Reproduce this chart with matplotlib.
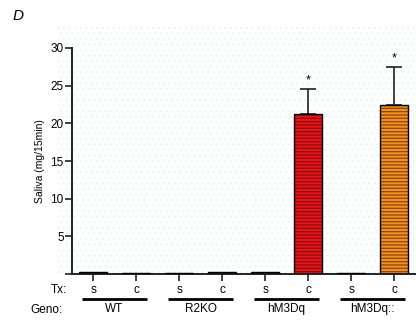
import matplotlib
matplotlib.use("Agg")
import matplotlib.pyplot as plt
from matplotlib.patches import Rectangle
import numpy as np

plt.rcParams["font.family"] = ["Liberation Sans", "DejaVu Sans"]

# data
genotypes = ["WT", "R2KO", "hM3Dq", "hM3Dq::"]
treatments = ["s", "c", "s", "c", "s", "c", "s", "c"]
saliva = [0.3, 0.15, 0.1, 0.2, 0.3, 21.3, 0.1, 22.4]
saliva_err = [0.1, 0.05, 0.05, 0.05, 0.1, 3.3, 0.05, 5.1]
fill_colors = ["#3a3a3a"] * 5 + ["#e8141b", "#3a3a3a", "#f5901e"]
stripe_colors = ["#3a3a3a"] * 5 + ["#8e0c0c", "#3a3a3a", "#8a4812"]
signif = [False, False, False, False, False, True, False, True]

fig = plt.figure(figsize=(4.16, 3.26), dpi=100)

# speckled background
plt.rcParams["hatch.linewidth"] = 0.3
bg = Rectangle((58 / 416, 52 / 326), 1 - 58 / 416, 1 - 52 / 326 - 25 / 326,
               transform=fig.transFigure, facecolor="#fdfefe",
               edgecolor="#e3ebeb", hatch="...", linewidth=0, zorder=0)
fig.patches.append(bg)

ax = fig.add_axes([72 / 416, 52 / 326, 1 - 72 / 416, (274 - 48) / 326])
ax.set_zorder(2)
ax.patch.set_alpha(0)

x = np.arange(len(saliva))
w = 0.67
# striped fill
plt.rcParams["hatch.linewidth"] = 0.9
ax.bar(x, saliva, width=w, color=fill_colors, edgecolor=stripe_colors,
       hatch="-----", linewidth=0, zorder=2)
# black outline
ax.bar(x, saliva, width=w, fill=False, edgecolor="black", linewidth=1.0, zorder=3)

big = [i for i in range(len(saliva)) if signif[i]]
ax.errorbar(x[big], np.array(saliva)[big],
            yerr=[np.zeros(len(big)), np.array(saliva_err)[big]],
            fmt="none", ecolor="#222222", elinewidth=1.2, capsize=5.5,
            capthick=1.2, zorder=1)
for i in big:
    ax.text(x[i], saliva[i] + saliva_err[i] + 0.3, "*", ha="center",
            va="bottom", fontsize=9)

ax.set_xlim(-0.49, 7.51)
ax.set_ylim(0, 30)
ax.set_yticks([0, 5, 10, 15, 20, 25, 30])
ax.set_yticklabels(["", "5", "10", "15", "20", "25", "30"])
ax.set_xticks(x)
ax.set_xticklabels([])
ax.tick_params(axis="both", length=5, width=1.2, labelsize=8.5, pad=1,
               color="#222222")
for s in ["top", "right"]:
    ax.spines[s].set_visible(False)
for s in ["left", "bottom"]:
    ax.spines[s].set_linewidth(1.4)
    ax.spines[s].set_color("#222222")
ax.set_ylabel("Saliva (mg/15min)", fontsize=7.5, labelpad=4)

# Tx / Geno labels
trans = ax.get_xaxis_transform()
for xi, t in zip(x, treatments):
    ax.text(xi, -0.07, t, transform=trans, ha="center", va="center", fontsize=8.5)
for g, name in enumerate(genotypes):
    ax.plot([2 * g - 0.25, 2 * g + 1.25], [-0.11, -0.11], transform=trans,
            color="black", lw=2, clip_on=False, solid_capstyle="butt")
    ax.text(2 * g + 0.5, -0.155, name, transform=trans, ha="center",
            va="center", fontsize=8.5)
fig.text(67 / 416, 1 - 290 / 326, "Tx:", ha="right", va="center", fontsize=8.5)
fig.text(63 / 416, 1 - 310 / 326, "Geno:", ha="right", va="center", fontsize=8.5)
fig.text(13 / 416, 1 - 16 / 326, "D", ha="left", va="center", fontsize=11,
         style="italic")

plt.savefig("out.png", dpi=100)
